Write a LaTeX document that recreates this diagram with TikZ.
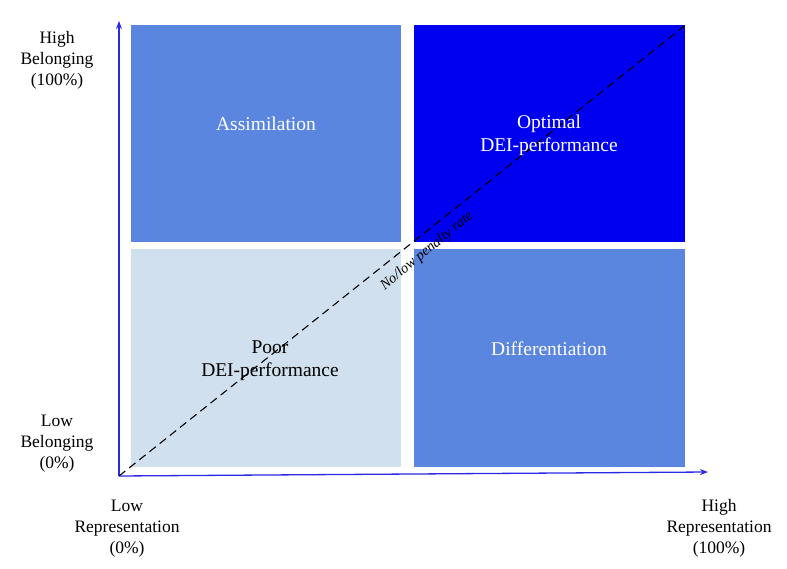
\documentclass[tikz,border=0pt]{standalone}
\usepackage{fontspec}
\setmainfont{Liberation Serif}
\usetikzlibrary{arrows.meta}
\definecolor{midblue}{HTML}{5B86E0}
\definecolor{deepblue}{HTML}{0000F0}
\definecolor{paleblue}{HTML}{D1E0EE}
\definecolor{axisblue}{HTML}{2A2AE6}
\begin{document}
\begin{tikzpicture}[x=1pt,y=-1pt,
  quad/.style={draw=none,inner sep=0pt,outer sep=0pt},
  lbl/.style={font=\fontsize{19.5}{23}\selectfont,align=center,inner sep=0pt},
  axlbl/.style={font=\fontsize{17.5}{21}\selectfont,align=center,inner sep=0pt},
  axis/.style={draw=axisblue,line width=1.3pt,-{Stealth[length=8pt,width=6pt]}}]
\useasboundingbox (0,0) rectangle (787,569);
\fill[white] (0,0) rectangle (787,569);
% quadrants
\node[quad,fill=midblue,minimum width=270pt,minimum height=217pt,anchor=north west] (tl) at (131,25.5) {};
\node[quad,fill=deepblue,minimum width=271pt,minimum height=217pt,anchor=north west] (tr) at (414,25.5) {};
\node[quad,fill=paleblue,minimum width=270pt,minimum height=217pt,anchor=north west] (bl) at (131,249.5) {};
\node[quad,fill=midblue,minimum width=271pt,minimum height=217pt,anchor=north west] (br) at (414,249.5) {};
% axes
\coordinate (o) at (119,476);
\coordinate (ytop) at (119,21);
\coordinate (xend) at (708,472);
\draw[axis] (o) -- (ytop);
\draw[axis] (o) -- (xend);
% diagonal
\draw[black,line width=1.1pt,dash pattern=on 8pt off 5pt] (o) -- (tr.north east);
\node[rotate=39.5,inner sep=0pt,font=\itshape\fontsize{14.5}{16}\selectfont] (pen) at (427,251) {No/low penalty rate};
% quadrant labels
\node[lbl,text=white] (a) at (266,124) {Assimilation};
\node[lbl,text=white] (b) at (549,135.5) {Optimal\\DEI-performance};
\node[lbl,text=black] (c) at (270,360.5) {Poor\\DEI-performance};
\node[lbl,text=white] (d) at (549,349) {Differentiation};
% axis labels
\node[axlbl] (hb) at (57,60) {High\\Belonging\\(100\%)};
\node[axlbl] (lb) at (57,444) {Low\\Belonging\\(0\%)};
\node[axlbl] (lr) at (127,528.5) {Low\\Representation\\(0\%)};
\node[axlbl] (hr) at (719,528.5) {High\\Representation\\(100\%)};
\end{tikzpicture}
\end{document}
